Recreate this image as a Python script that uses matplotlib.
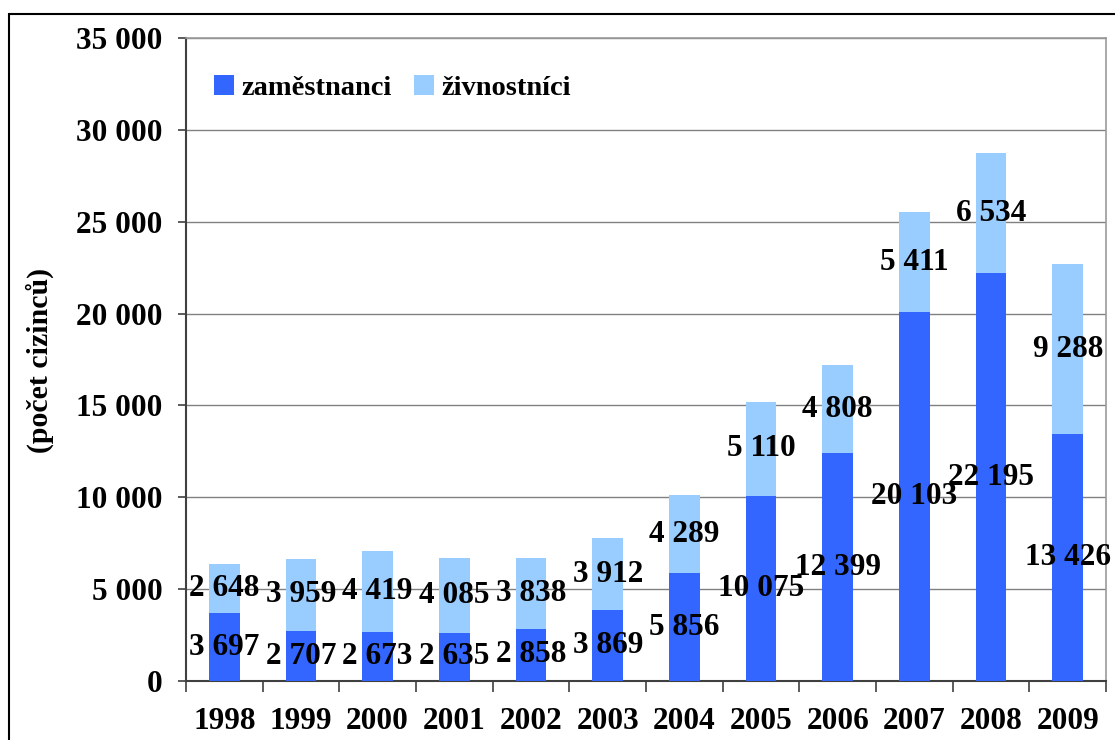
import matplotlib
matplotlib.use("Agg")
import matplotlib.pyplot as plt
import matplotlib.ticker as mticker
from matplotlib.patches import Rectangle
import numpy as np

# ── data ─────────────────────────────────────────────────────────────────────
years = ["1998", "1999", "2000", "2001", "2002", "2003",
         "2004", "2005", "2006", "2007", "2008", "2009"]
zamestnanci = [3697, 2707, 2673, 2635, 2858, 3869,
               5856, 10075, 12399, 20103, 22195, 13426]
zivnostnici = [2648, 3959, 4419, 4085, 3838, 3912,
               4289, 5110, 4808, 5411, 6534, 9288]

DARK = "#3366FF"
LIGHT = "#99CCFF"
FONT = ["Liberation Serif", "DejaVu Serif"]
FS = 22.5

plt.rcParams["font.family"] = FONT
plt.rcParams["font.weight"] = "bold"


def fmt(v):
    return f"{v:,.0f}".replace(",", " ")


fig = plt.figure(figsize=(11.15, 7.4), dpi=100)
ax = fig.add_axes([0.1668, 0.0797, 0.8252, 0.8689])

x = np.arange(len(years))
b1 = ax.bar(x, zamestnanci, width=0.4, color=DARK, label="zaměstnanci", zorder=3)
b2 = ax.bar(x, zivnostnici, width=0.4, bottom=zamestnanci, color=LIGHT,
            label="živnostníci", zorder=3)

ax.bar_label(b1, labels=[fmt(v) for v in zamestnanci], label_type="center",
             fontsize=FS, fontweight="bold", color="black", zorder=4)
ax.bar_label(b2, labels=[fmt(v) for v in zivnostnici], label_type="center",
             fontsize=FS, fontweight="bold", color="black", zorder=4)

# ── axes styling ─────────────────────────────────────────────────────────────
ax.set_xlim(-0.5, len(years) - 0.5)
ax.set_ylim(0, 35000)
ax.yaxis.set_major_locator(mticker.MultipleLocator(5000))
ax.yaxis.set_major_formatter(mticker.FuncFormatter(lambda v, _: fmt(v)))
ax.grid(axis="y", color="#808080", linewidth=1.0, zorder=0)

ax.set_xticks(x)
ax.set_xticklabels(years)
ax.set_xticks(np.arange(-0.5, len(years)), minor=True)
ax.tick_params(axis="x", which="major", length=0, pad=19, labelsize=FS)
ax.tick_params(axis="x", which="minor", length=8, width=1.2, color="#404040")
ax.tick_params(axis="y", length=6, width=1.2, color="#404040", pad=11,
               labelsize=FS)

for side in ("left", "bottom"):
    ax.spines[side].set_color("#404040")
    ax.spines[side].set_linewidth(1.5)
for side in ("top", "right"):
    ax.spines[side].set_color("#9a9a9a")
    ax.spines[side].set_linewidth(1.2)

fig.text(0.036, 0.513, "(počet cizinců)", rotation=90, ha="center",
         va="center", fontsize=FS - 1, fontweight="bold")

ax.legend(loc="upper left", bbox_to_anchor=(0.018, 0.96), ncol=2,
          frameon=False, fontsize=FS - 2, handlelength=0.7, handleheight=0.7,
          handletextpad=0.25, columnspacing=0.8, borderaxespad=0)

# outer chart frame (partly cropped)
fig.patches.append(Rectangle((0.008, -0.2), 1.5, 1.181, transform=fig.transFigure,
                             fill=False, edgecolor="black", linewidth=1.5))

fig.savefig("out.png", dpi=100, facecolor="white")
